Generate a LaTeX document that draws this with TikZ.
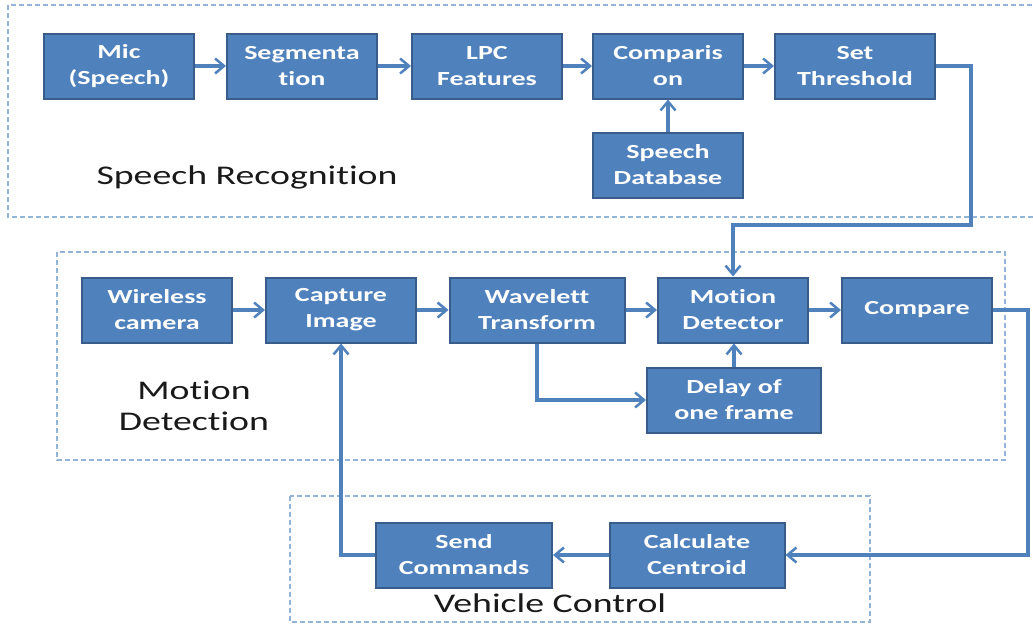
\documentclass[tikz,border=0pt]{standalone}
\usepackage{fontspec}
\setmainfont{Carlito}[FakeStretch=1.4, Ligatures=NoCommon]
\usetikzlibrary{arrows.meta, positioning}
\definecolor{boxBlue}{HTML}{4F81BD}
\definecolor{edgeBlue}{HTML}{385D8A}
\definecolor{frameBlue}{HTML}{95B3D7}
\definecolor{labelGray}{gray}{0.1}

\begin{document}
\begin{tikzpicture}[x=1pt, y=-1pt,
    blk/.style={draw=edgeBlue, line width=2pt, fill=boxBlue, text=white,
        font=\fontsize{20}{26}\selectfont\bfseries, align=center,
        minimum width=150pt, minimum height=65pt, inner sep=2pt},
    conn/.style={draw=boxBlue, line width=3.2pt,
        -{Straight Barb[length=9pt, width=15pt, line width=2.5pt]}},
    frame/.style={draw=frameBlue, line width=1.5pt, dash pattern=on 5pt off 3pt},
    grp/.style={text=labelGray, font=\fontsize{27}{31}\selectfont, align=center}]
    \useasboundingbox (0,0) rectangle (1033,629);

    % dashed group frames
    \draw[frame] (8,5) rectangle (1040,217);
    \draw[frame] (57,252) rectangle (1005,460);
    \draw[frame] (290,496) rectangle (870,622);

    % speech recognition
    \node[blk] (mic) at (119,66) {Mic\\(Speech)};
    \node[blk] (seg) at (302,66) {Segmenta\\tion};
    \node[blk] (lpc) at (487,66) {LPC\\Features};
    \node[blk] (cmp) at (668,66) {Comparis\\on};
    \node[blk, minimum width=160pt] (thr) at (855,66) {Set\\Threshold};
    \node[blk] (db) at (668,165) {Speech\\Database};
    \node[grp] (sr) at (247,177) {Speech Recognition};

    % motion detection
    \node[blk] (cam) at (157,310) {Wireless\\camera};
    \node[blk] (cap) at (341,310) {Capture\\Image};
    \node[blk, minimum width=175pt] (wav) at (537,310) {Wavelett\\Transform};
    \node[blk] (mot) at (733,310) {Motion\\Detector};
    \node[blk] (cpr) at (917,310) {Compare};
    \node[blk, minimum width=174pt] (dly) at (734,400) {Delay of\\one frame};
    \node[grp] (md) at (194,406) {Motion\\Detection};

    % vehicle control
    \node[blk, minimum width=176pt] (snd) at (464,555) {Send\\Commands};
    \node[blk, minimum width=175pt] (calc) at (697,555) {Calculate\\Centroid};
    \node[grp] (vc) at (550,603) {Vehicle Control};

    \coordinate (t1) at (971,225);
    \coordinate (c1) at (1028,555);

    \draw[conn] (mic) -- (seg);
    \draw[conn] (seg) -- (lpc);
    \draw[conn] (lpc) -- (cmp);
    \draw[conn] (cmp) -- (thr);
    \draw[conn] (db) -- (cmp);
    \draw[conn] (thr.east) -| (t1) -| (mot.north);

    \draw[conn] (cam) -- (cap);
    \draw[conn] (cap) -- (wav);
    \draw[conn] (wav) -- (mot);
    \draw[conn] (mot) -- (cpr);
    \draw[conn] (wav.south) |- (dly.west);
    \draw[conn] (dly.north) -- (dly.north |- mot.south);
    \draw[conn] (cpr.east) -| (c1) -- (calc.east);

    \draw[conn] (calc) -- (snd);
    \draw[conn] (snd.west) -| (cap.south);
\end{tikzpicture}
\end{document}
